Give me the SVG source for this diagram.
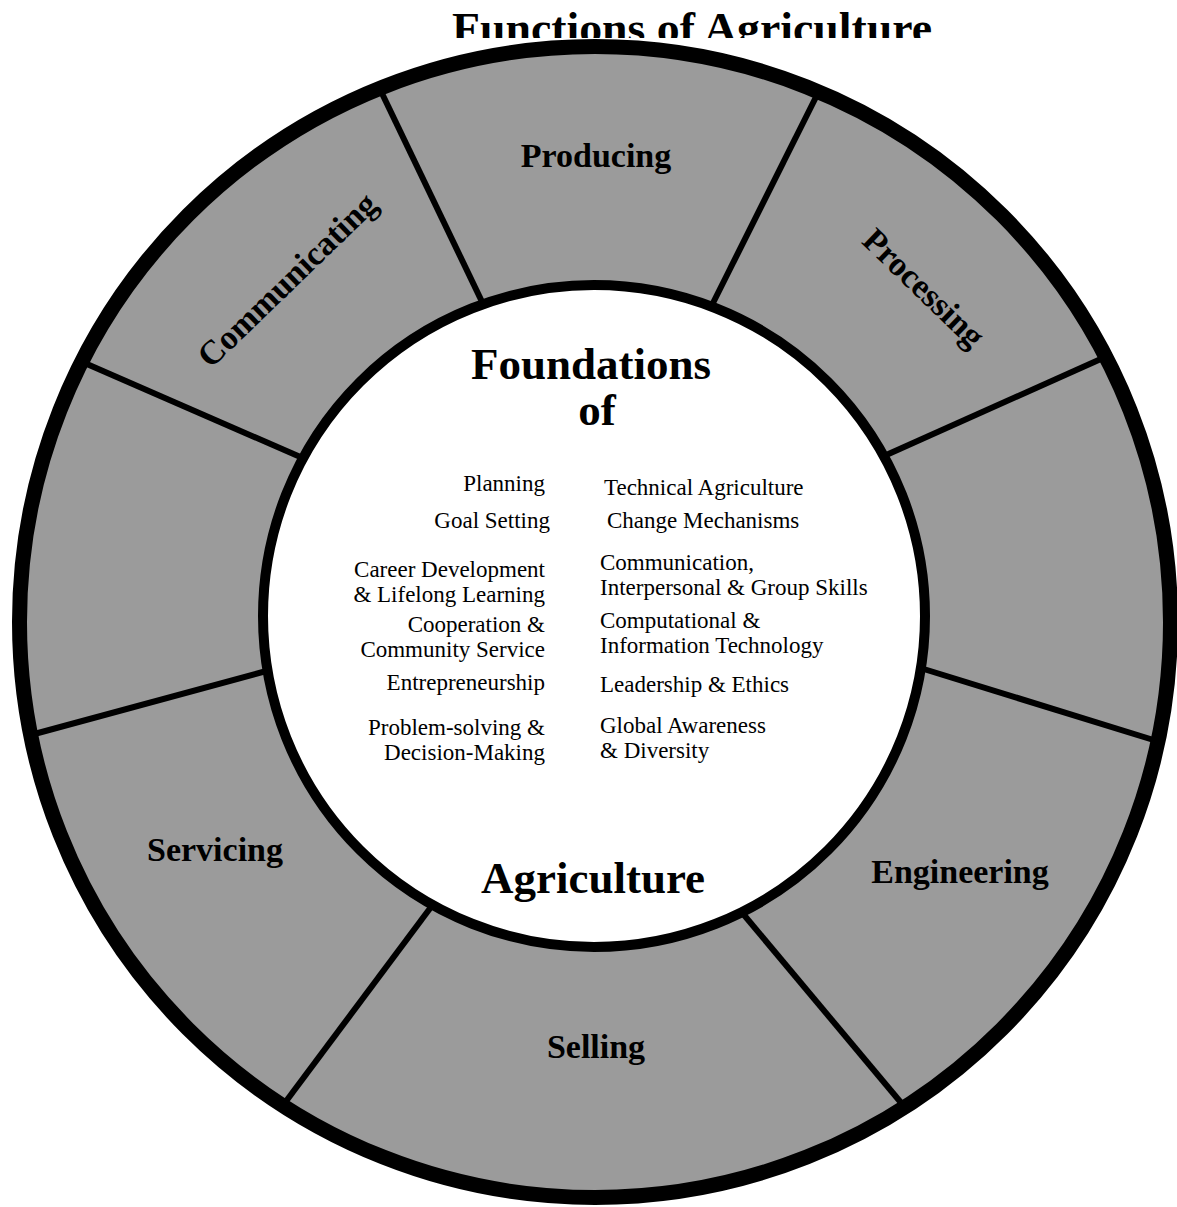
<svg xmlns="http://www.w3.org/2000/svg" width="1177" height="1207" viewBox="0 0 1177 1207">
<style>
.lbl{font-family:"Liberation Serif","Times New Roman",serif;font-weight:bold;font-size:34px;fill:#000;text-anchor:middle}
.big{font-family:"Liberation Serif","Times New Roman",serif;font-weight:bold;font-size:45px;fill:#000;text-anchor:middle}
.sm{font-family:"Liberation Serif","Times New Roman",serif;font-size:23px;fill:#000}
.l{text-anchor:end}
.r{text-anchor:start}
.div{stroke:#000;stroke-width:6;fill:none}
</style>
<defs>
<clipPath id="titleClip"><rect x="0" y="0" width="1177" height="38"/></clipPath>
</defs>
<rect x="0" y="0" width="1177" height="1207" fill="#fff"/>
<g id="title">
<text x="692" y="43" class="big" font-size="47" textLength="480" lengthAdjust="spacingAndGlyphs" clip-path="url(#titleClip)">Functions of Agriculture</text>
</g>
<g id="ring">
<circle cx="595" cy="622" r="576" fill="#9b9b9b"/>
</g>
<g id="connectors">
<line class="div" x1="377" y1="83" x2="485" y2="308"/>
<line class="div" x1="821" y1="87" x2="711" y2="307"/>
<line class="div" x1="1112" y1="354" x2="884" y2="456"/>
<line class="div" x1="914" y1="666" x2="1160" y2="742"/>
<line class="div" x1="739" y1="909" x2="908" y2="1111"/>
<line class="div" x1="434" y1="903" x2="281" y2="1108"/>
<line class="div" x1="270" y1="670" x2="27" y2="736"/>
<line class="div" x1="80" y1="361" x2="305" y2="459"/>
</g>
<g id="ring-border">
<circle cx="595" cy="622" r="575.5" fill="none" stroke="#000" stroke-width="15"/>
</g>
<g id="producing"><text class="lbl" x="596" y="167">Producing</text></g>
<g id="processing"><text class="lbl" transform="translate(916,296) rotate(44)">Processing</text></g>
<g id="communicating"><text class="lbl" font-size="33" transform="translate(295,288) rotate(-44)">Communicating</text></g>
<g id="servicing"><text class="lbl" x="215" y="861">Servicing</text></g>
<g id="engineering"><text class="lbl" x="960" y="883">Engineering</text></g>
<g id="selling"><text class="lbl" x="596" y="1058">Selling</text></g>
<g id="foundations">
<circle cx="594" cy="616" r="331" fill="#fff" stroke="#000" stroke-width="10"/>
<text class="big" x="591" y="379">Foundations</text>
<text class="big" x="597" y="425">of</text>
<text class="big" x="593" y="893">Agriculture</text>
<text class="sm l" x="545" y="491">Planning</text>
<text class="sm l" x="550" y="528">Goal Setting</text>
<text class="sm l" x="545" y="577">Career Development</text>
<text class="sm l" x="545" y="602">&amp; Lifelong Learning</text>
<text class="sm l" x="545" y="632">Cooperation &amp;</text>
<text class="sm l" x="545" y="657">Community Service</text>
<text class="sm l" x="545" y="690">Entrepreneurship</text>
<text class="sm l" x="545" y="735">Problem-solving &amp;</text>
<text class="sm l" x="545" y="760">Decision-Making</text>
<text class="sm r" x="604" y="495">Technical Agriculture</text>
<text class="sm r" x="607" y="528">Change Mechanisms</text>
<text class="sm r" x="600" y="570">Communication,</text>
<text class="sm r" x="600" y="595">Interpersonal &amp; Group Skills</text>
<text class="sm r" x="600" y="628">Computational &amp;</text>
<text class="sm r" x="600" y="653">Information Technology</text>
<text class="sm r" x="600" y="692">Leadership &amp; Ethics</text>
<text class="sm r" x="600" y="733">Global Awareness</text>
<text class="sm r" x="600" y="758">&amp; Diversity</text>
</g>
</svg>
